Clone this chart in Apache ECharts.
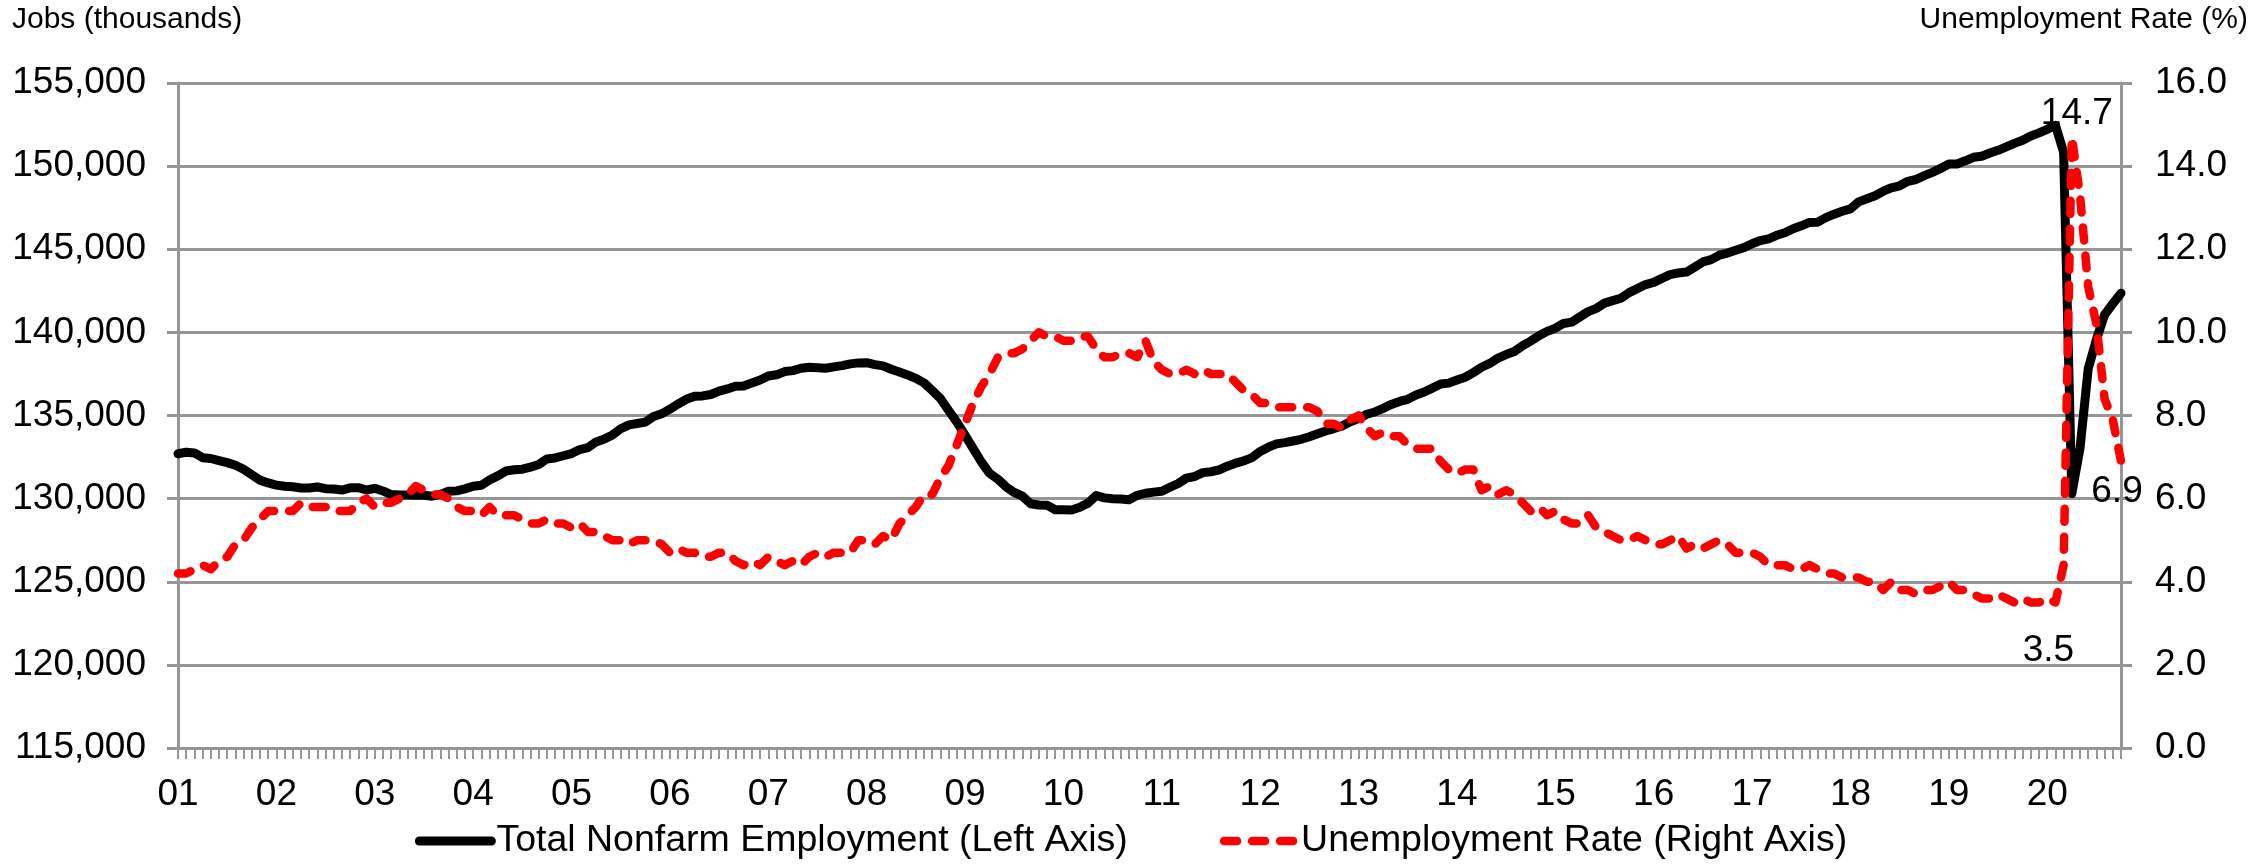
<!DOCTYPE html>
<html>
<head>
<meta charset="utf-8">
<title>Nonfarm employment and unemployment rate</title>
<script src="https://cdn.jsdelivr.net/npm/echarts@6/dist/echarts.min.js"></script>
<style>
  html, body { margin: 0; padding: 0; background: #fff; }
  #chart { width: 2262px; height: 865px; }
</style>
</head>
<body>
<div id="chart"></div>
<script>
// year tick labels, one per January (2001 .. 2020)
var yearLabels = ['01','02','03','04','05','06','07','08','09','10',
                  '11','12','13','14','15','16','17','18','19','20'];

// total nonfarm employment, thousands (Jan 2001 .. Oct 2020)
var jobs = [
  132698,132789,132747,132463,132414,132287,132165,132006,131762,131433,131113,130944,
  130813,130740,130715,130637,130644,130698,130597,130580,130517,130648,130657,130520,
  130619,130463,130248,130212,130212,130205,130197,130149,130256,130445,130466,130587,
  130745,130808,131118,131369,131660,131734,131769,131894,132050,132389,132446,132578,
  132711,132952,133064,133411,133581,133830,134203,134434,134517,134603,134940,135102,
  135379,135693,135973,136155,136177,136261,136463,136599,136756,136772,136960,137131,
  137373,137447,137642,137701,137840,137906,137873,137841,137922,137999,138106,138165,
  138176,138063,137984,137781,137612,137442,137236,136961,136502,136022,135303,134599,
  133816,133003,132203,131521,131174,130709,130370,130151,129694,129615,129607,129332,
  129335,129316,129478,129729,130187,130045,129990,129981,129938,130200,130323,130391,
  130444,130683,130909,131233,131331,131565,131617,131726,131951,132133,132269,132471,
  132838,133094,133296,133371,133466,133569,133721,133896,134070,134214,134377,134620,
  134810,135074,135213,135432,135666,135844,135975,136232,136413,136646,136892,136946,
  137133,137302,137579,137903,138133,138449,138667,138852,139198,139474,139800,140061,
  140251,140537,140620,140930,141249,141446,141759,141908,142052,142391,142631,142875,
  143007,143248,143470,143576,143629,143927,144237,144378,144643,144769,144942,145097,
  145332,145523,145630,145838,145994,146233,146408,146613,146631,146902,147108,147283,
  147424,147849,148032,148221,148491,148698,148816,149088,149196,149432,149628,149861,
  150130,150131,150320,150530,150592,150787,150953,151160,151368,151553,151814,151998,
  152212,152463,150840,130303,133028,137809,139570,141059,141720,142358
];

// unemployment rate, percent (Jan 2001 .. Oct 2020)
var rate = [
  4.2,4.2,4.3,4.4,4.3,4.5,4.6,4.9,5.0,5.3,5.5,5.7,
  5.7,5.7,5.7,5.9,5.8,5.8,5.8,5.7,5.7,5.7,5.9,6.0,
  5.8,5.9,5.9,6.0,6.1,6.3,6.2,6.1,6.1,6.0,5.8,5.7,
  5.7,5.6,5.8,5.6,5.6,5.6,5.5,5.4,5.4,5.5,5.4,5.4,
  5.3,5.4,5.2,5.2,5.1,5.0,5.0,4.9,5.0,5.0,5.0,4.9,
  4.7,4.8,4.7,4.7,4.6,4.6,4.7,4.7,4.5,4.4,4.5,4.4,
  4.6,4.5,4.4,4.5,4.4,4.6,4.7,4.6,4.7,4.7,4.7,5.0,
  5.0,4.9,5.1,5.0,5.4,5.6,5.8,6.1,6.1,6.5,6.8,7.3,
  7.8,8.3,8.7,9.0,9.4,9.5,9.5,9.6,9.8,10.0,9.9,9.9,
  9.8,9.8,9.9,9.9,9.6,9.4,9.4,9.5,9.5,9.4,9.8,9.3,
  9.1,9.0,9.0,9.1,9.0,9.1,9.0,9.0,9.0,8.8,8.6,8.5,
  8.3,8.3,8.2,8.2,8.2,8.2,8.2,8.1,7.8,7.8,7.7,7.9,
  8.0,7.7,7.5,7.6,7.5,7.5,7.3,7.2,7.2,7.2,6.9,6.7,
  6.6,6.7,6.7,6.2,6.3,6.1,6.2,6.1,5.9,5.7,5.8,5.6,
  5.7,5.5,5.4,5.4,5.6,5.3,5.2,5.1,5.0,5.0,5.1,5.0,
  4.9,4.9,5.0,5.1,4.8,4.9,4.8,4.9,5.0,4.9,4.7,4.7,
  4.7,4.6,4.4,4.4,4.4,4.3,4.3,4.4,4.3,4.2,4.2,4.1,
  4.1,4.1,4.0,4.0,3.8,4.0,3.8,3.8,3.7,3.8,3.8,3.9,
  4.0,3.8,3.8,3.7,3.6,3.6,3.7,3.6,3.5,3.6,3.5,3.5,
  3.6,3.5,4.4,14.7,13.3,11.1,10.2,8.4,7.9,6.9
];

// months that carry a value label (Feb 2020, Apr 2020, Oct 2020)
var labelledMonths = [229, 231, 237];

// one category per month, 'YY-MM'
var months = [];
for (var i = 0; i < rate.length; i++) {
  months.push(yearLabels[Math.floor(i / 12)] + '-' + (i % 12 + 1));
}

var font = "'Liberation Sans', Arial, sans-serif";
var gray = '#969696';

// label placement for the three annotated points
var labelPlace = {
  229: { position: 'bottom', distance: 29, offset: [-7, 0] },
  231: { position: 'top', distance: 4, offset: [5, 0] },
  237: { position: 'bottom', distance: 12, offset: [-4, 0] }
};

var marks = labelledMonths.map(function (m) {
  var p = labelPlace[m];
  return {
    coord: [m, rate[m]],
    value: rate[m],
    label: { position: p.position, distance: p.distance, offset: p.offset }
  };
});

var chart = echarts.init(document.getElementById('chart'));

var option = {
  animation: false,
  backgroundColor: '#fff',
  textStyle: { fontFamily: font },
  title: [
    { text: 'Jobs (thousands)', left: 12, top: 5, padding: 0,
      textStyle: { fontSize: 30, fontWeight: 'normal', color: '#000', fontFamily: font } },
    { text: 'Unemployment Rate (%)', right: 14, top: 5, padding: 0,
      textStyle: { fontSize: 30, fontWeight: 'normal', color: '#000', fontFamily: font } }
  ],
  grid: {
    left: 178,
    right: 141,
    top: 83,
    bottom: 117,
    containLabel: false,
    outerBoundsMode: 'none'
  },
  legend: {
    top: 822,
    left: 'center',
    padding: 0,
    itemWidth: 72,
    itemHeight: 14,
    itemGap: 92,
    itemStyle: { opacity: 0, borderWidth: 0 },
    lineStyle: { width: 'inherit' },
    textStyle: { fontSize: 37.5, color: '#000', fontFamily: font },
    data: ['Total Nonfarm Employment (Left Axis)', 'Unemployment Rate (Right Axis)']
  },
  xAxis: {
    type: 'category',
    data: months,
    boundaryGap: false,
    axisLine: { lineStyle: { color: gray, width: 3 } },
    axisTick: {
      interval: 0,
      length: 11,
      lineStyle: { color: gray, width: 2 }
    },
    axisLabel: {
      interval: function (idx) { return idx % 12 === 0; },
      formatter: function (v) { return v.split('-')[0]; },
      fontSize: 37,
      color: '#000',
      margin: 28,
      fontFamily: font
    },
    splitLine: { show: false }
  },
  yAxis: [
    {
      type: 'value',
      min: 115000,
      max: 155000,
      interval: 5000,
      axisLine: { show: true, lineStyle: { color: gray, width: 3 } },
      axisTick: { show: true, length: 11, lineStyle: { color: gray, width: 3 } },
      axisLabel: {
        fontSize: 37,
        color: '#000',
        margin: 32,
        fontFamily: font,
        formatter: function (v) { return v.toLocaleString('en-US'); }
      },
      splitLine: { show: true, lineStyle: { color: gray, width: 3 } }
    },
    {
      type: 'value',
      min: 0,
      max: 16,
      interval: 2,
      position: 'right',
      axisLine: { show: true, lineStyle: { color: gray, width: 3 } },
      axisTick: { show: true, length: 11, lineStyle: { color: gray, width: 3 } },
      axisLabel: {
        fontSize: 37,
        color: '#000',
        margin: 34,
        fontFamily: font,
        formatter: function (v) { return v.toFixed(1); }
      },
      splitLine: { show: false }
    }
  ],
  series: [
    {
      name: 'Total Nonfarm Employment (Left Axis)',
      type: 'line',
      yAxisIndex: 0,
      data: jobs,
      symbol: 'none',
      color: '#000',
      lineStyle: { color: '#000', width: 9, join: 'round', cap: 'round' },
      z: 3
    },
    {
      name: 'Unemployment Rate (Right Axis)',
      type: 'line',
      yAxisIndex: 1,
      data: rate,
      symbol: 'none',
      color: '#ff0000',
      lineStyle: {
        color: '#ff0000',
        width: 8.5,
        type: [13, 15],
        cap: 'round',
        join: 'round'
      },
      markPoint: {
        symbol: 'circle',
        symbolSize: 1,
        itemStyle: { color: 'rgba(0,0,0,0)' },
        label: {
          show: true,
          formatter: function (p) { return p.value.toFixed(1); },
          fontSize: 37,
          color: '#000',
          fontFamily: font
        },
        data: marks
      },
      z: 4
    }
  ]
};

chart.setOption(option);
</script>
</body>
</html>
